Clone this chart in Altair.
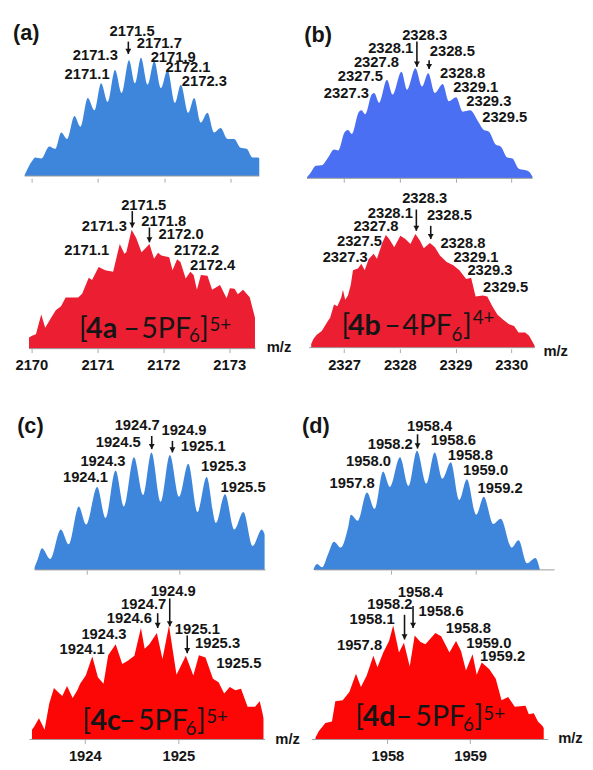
import altair as alt
import pandas as pd

# ---------------- (a) blue : simulated ----------------
a_blue_mz = [2169.90, 2170.02, 2170.06, 2170.15, 2170.27, 2170.36, 2170.45, 2170.54, 2170.65, 2170.74,
             2170.85, 2170.95, 2171.05, 2171.15, 2171.26, 2171.36, 2171.47, 2171.56, 2171.65, 2171.75,
             2171.85, 2171.95, 2172.05, 2172.16, 2172.25, 2172.36, 2172.45, 2172.55, 2172.65, 2172.75,
             2172.85, 2172.95, 2173.05, 2173.15, 2173.24, 2173.33, 2173.41, 2173.43]
a_blue_int = [1, 16, 18.7, 17.7, 30, 27.7, 44.3, 37.7, 61, 50,
              79.3, 66.7, 94.3, 75.3, 107.7, 84.3, 117.7, 94.3, 120, 92.7,
              116.7, 89.3, 107.7, 74.3, 92.7, 64.3, 79.3, 54.3, 64.3, 44.3,
              48.7, 37.7, 37.7, 28.7, 27.7, 18.7, 18.7, 17.7]
a_blue_lab = ["2171.5", "2171.7", "2171.3", "2171.9", "2172.1", "2171.1", "2172.3"]
a_blue_lab_mz = [2171.516, 2171.926, 2170.963, 2172.135, 2172.357, 2170.839, 2172.604]
a_blue_lab_h = [147.7, 135, 122.7, 121, 110.4, 103.4, 96.7]
a_blue_arr_mz = [2171.46]
a_blue_arr_top = [136.5]
a_blue_arr_tip = [124]

# ---------------- (a) red : experimental ----------------
a_red_mz = [2169.965, 2170.01, 2170.07, 2170.15, 2170.21, 2170.30, 2170.37, 2170.45, 2170.52, 2170.60,
            2170.71, 2170.77, 2170.87, 2170.92, 2171.02, 2171.12, 2171.24, 2171.34, 2171.41, 2171.44,
            2171.52, 2171.59, 2171.67, 2171.72, 2171.79, 2171.86, 2171.92, 2171.97, 2172.09, 2172.14,
            2172.21, 2172.26, 2172.34, 2172.41, 2172.46, 2172.51, 2172.57, 2172.67, 2172.74, 2172.86,
            2172.96, 2173.01, 2173.08, 2173.13, 2173.21, 2173.31, 2173.39]
a_red_int = [11.3, 13, 14.7, 34.7, 21.3, 31.3, 39, 43, 52, 52,
             52, 55.7, 72, 69.7, 83, 79.7, 78, 106.3, 96.3, 98,
             120.7, 112.3, 98, 101.3, 106.3, 91.3, 97.3, 94.7, 92.7, 79.7,
             90.7, 88, 71.3, 78, 74.7, 59.7, 74.7, 74, 59.7, 64.7,
             51.3, 61.3, 60.7, 55.3, 59.7, 52.3, 31.3]
a_red_lab = ["2171.5", "2171.3", "2171.8", "2172.0", "2171.1", "2172.2", "2172.4"]
a_red_lab_mz = [2171.703, 2171.106, 2172.007, 2172.27, 2170.84, 2172.504, 2172.748]
a_red_lab_h = [146.3, 124.7, 129.7, 116.3, 100.3, 99.7, 85.3]
a_red_arr_mz = [2171.53, 2171.79]
a_red_arr_top = [139.7, 123]
a_red_arr_tip = [123, 108]
a_formula_text = ["[", "4a", "–", "5PF", "6", "]", "5+"]
a_formula_style = ["n", "b", "n", "n", "s", "n", "s"]
a_formula_mz = [2170.721, 2170.830, 2171.393, 2171.666, 2172.388, 2172.557, 2172.701]
a_formula_h = [11.3, 11.3, 11.3, 11.3, 6.3, 11.3, 18]

# ---------------- (b) blue ----------------
b_blue_mz = [2326.335, 2326.394, 2326.494, 2326.60, 2326.72, 2326.82, 2326.895, 2327.01, 2327.07, 2327.14,
             2327.26, 2327.31, 2327.38, 2327.495, 2327.54, 2327.63, 2327.77, 2327.87, 2328.03, 2328.13,
             2328.28, 2328.40, 2328.51, 2328.63, 2328.77, 2328.88, 2329.01, 2329.13, 2329.26, 2329.40,
             2329.51, 2329.60, 2329.72, 2329.81, 2329.93, 2330.02, 2330.13, 2330.24, 2330.32, 2330.38]
b_blue_int = [1, 5, 12.7, 13.3, 21.7, 29.3, 28.3, 46.7, 49, 45,
              66.7, 69, 65, 85, 86.7, 76.7, 100, 85, 108.3, 90,
              111.7, 93.3, 106.7, 86.7, 95.7, 78.3, 82.3, 67.7, 69, 58.3,
              49, 47.3, 34.3, 32.3, 21, 20, 10, 8.3, 6.7, 1.7]
b_lab = ["2328.3", "2328.1", "2328.5", "2327.8", "2328.8", "2327.5", "2329.1", "2327.3", "2329.3", "2329.5"]
b_blue_lab_mz = [2328.447, 2327.837, 2328.942, 2327.581, 2329.127, 2327.292, 2329.362, 2327.042, 2329.597, 2329.883]
b_blue_lab_h = [145.7, 132.3, 129, 117.7, 107.3, 104, 92.3, 86.7, 78.3, 62.3]
b_blue_arr_mz = [2328.307, 2328.526]
b_blue_arr_top = [139, 120]
b_blue_arr_tip = [113.3, 111]

# ---------------- (b) red ----------------
b_red_mz = [2326.41, 2326.45, 2326.51, 2326.60, 2326.71, 2326.75, 2326.82, 2326.88, 2326.95, 2326.98,
            2327.02, 2327.07, 2327.12, 2327.16, 2327.25, 2327.31, 2327.37, 2327.44, 2327.53, 2327.59,
            2327.69, 2327.75, 2327.81, 2327.90, 2328.01, 2328.10, 2328.19, 2328.28, 2328.36, 2328.43,
            2328.54, 2328.63, 2328.72, 2328.84, 2328.96, 2329.07, 2329.19, 2329.28, 2329.36, 2329.49,
            2329.57, 2329.66, 2329.75, 2329.85, 2329.96, 2330.05, 2330.13, 2330.25, 2330.32, 2330.42]
b_red_int = [3.7, 8.7, 13, 17, 27, 30.3, 43.7, 42, 51, 58.7,
             48.7, 53, 63.7, 78.7, 80.3, 85.3, 78.7, 89.7, 95.3, 90.3,
             107, 114.3, 110.3, 102, 113.7, 110.3, 105.3, 115.3, 108.7, 101,
             106.3, 102, 93.7, 87, 83.7, 78.7, 69.7, 71, 52, 53,
             52, 42, 33.7, 28.7, 23.7, 22, 15.3, 15.3, 12, 2]
b_red_lab_mz = [2328.447, 2327.830, 2328.891, 2327.572, 2329.133, 2327.277, 2329.367, 2327.021, 2329.618, 2329.898]
b_red_lab_h = [152, 137, 134.3, 123.7, 106.3, 108.7, 92, 92, 78.7, 62]
b_red_arr_mz = [2328.297, 2328.555]
b_red_arr_top = [140.3, 123.7]
b_red_arr_tip = [118.7, 110.3]
b_formula_text = ["[", "4b", "–", "4PF", "6", "]", "4+"]
b_formula_style = ["n", "b", "n", "n", "s", "n", "s"]
b_formula_mz = [2326.954, 2327.071, 2327.719, 2328.042, 2328.926, 2329.133, 2329.309]
b_formula_h = [13, 13, 13, 13, 7, 13, 23.7]

# ---------------- (c) blue ----------------
c_blue_mz = [1923.43, 1923.465, 1923.51, 1923.60, 1923.715, 1923.80, 1923.91, 1923.99, 1924.11, 1924.20,
             1924.31, 1924.40, 1924.51, 1924.61, 1924.70, 1924.80, 1924.90, 1925.00, 1925.10, 1925.20,
             1925.30, 1925.40, 1925.50, 1925.60, 1925.70, 1925.80, 1925.90, 1925.93]
c_blue_int = [2.7, 11, 22, 11, 41, 26, 64.3, 46, 84.3, 52.7,
              101, 64.3, 114.3, 76, 119.3, 69.3, 116.7, 74.3, 107.7, 58.7,
              94.3, 47.7, 76.7, 41, 58.7, 24.3, 41, 36]
c_blue_lab = ["1924.7", "1924.9", "1924.5", "1925.1", "1924.3", "1925.3", "1924.1", "1925.5"]
c_blue_lab_mz = [1924.545, 1925.054, 1924.339, 1925.263, 1924.173, 1925.485, 1923.983, 1925.696]
c_blue_lab_h = [146.7, 142, 130, 125.3, 110, 105.3, 94.3, 84.3]
c_blue_arr_mz = [1924.703, 1924.928]
c_blue_arr_top = [136, 131]
c_blue_arr_tip = [122.7, 119.3]

# ---------------- (c) red ----------------
c_red_mz = [1923.435, 1923.46, 1923.51, 1923.57, 1923.62, 1923.67, 1923.73, 1923.76, 1923.81, 1923.87,
            1923.92, 1923.95, 1924.01, 1924.08, 1924.14, 1924.20, 1924.25, 1924.33, 1924.40, 1924.46,
            1924.53, 1924.60, 1924.64, 1924.69, 1924.77, 1924.83, 1924.90, 1924.98, 1925.08, 1925.16,
            1925.22, 1925.29, 1925.37, 1925.43, 1925.49, 1925.55, 1925.61, 1925.67, 1925.74, 1925.82,
            1925.87, 1925.90, 1925.91]
c_red_int = [10, 13.3, 21.7, 10, 36.7, 52.3, 46.7, 44.3, 54.3, 42.3,
             50, 56.7, 65, 84.3, 63.3, 56.7, 85.7, 96.7, 76.7, 80,
             85, 113.3, 92.3, 96.7, 108.3, 81.7, 115.7, 65.7, 85, 65,
             85.7, 83.3, 61.7, 58.3, 46.7, 53.3, 50, 51.7, 33.3, 33.3,
             39, 26.7, 21.7]
c_red_lab = ["1924.9", "1924.7", "1924.6", "1925.1", "1924.3", "1925.3", "1924.1", "1925.5"]
c_red_lab_mz = [1924.945, 1924.629, 1924.476, 1925.203, 1924.205, 1925.419, 1923.972, 1925.647]
c_red_lab_h = [151, 137.7, 123.3, 112.3, 106.7, 98.3, 92.3, 77.7]
c_red_arr_mz = [1924.908, 1924.779, 1925.095]
c_red_arr_top = [143.3, 128.3, 105.7]
c_red_arr_tip = [115, 113.3, 87.7]
c_formula_text = ["[", "4c", "–", "5PF", "6", "]", "5+"]
c_formula_style = ["n", "b", "n", "n", "s", "n", "s"]
c_formula_mz = [1923.972, 1924.06, 1924.365, 1924.568, 1925.077, 1925.2, 1925.298]
c_formula_h = [10, 10, 10, 10, 5, 10, 16.7]

# ---------------- (d) blue ----------------
d_blue_mz = [1957.09, 1957.13, 1957.19, 1957.26, 1957.33, 1957.41, 1957.50, 1957.53, 1957.61, 1957.72,
             1957.81, 1957.91, 1957.99, 1958.11, 1958.21, 1958.31, 1958.42, 1958.52, 1958.61, 1958.71,
             1958.81, 1958.90, 1959.01, 1959.10, 1959.21, 1959.30, 1959.43, 1959.51, 1959.61, 1959.71,
             1959.76]
d_blue_int = [1, 6, 2.7, 16, 28.7, 22.7, 44.3, 56, 50, 78.7,
              62, 100, 84.3, 114.3, 85.3, 121, 87.7, 119.3, 92.7, 109.3,
              71, 92, 56, 74.3, 46.7, 52, 22.7, 30, 6.7, 12,
              1]
d_blue_lab = ["1958.4", "1958.2", "1958.6", "1958.0", "1958.8", "1959.0", "1957.8", "1959.2"]
d_blue_lab_mz = [1958.46, 1957.995, 1958.74, 1957.738, 1958.94, 1959.12, 1957.544, 1959.292]
d_blue_lab_h = [146, 127.7, 132, 111, 116.7, 101, 87.7, 83.3]
d_blue_arr_mz = [1958.317]
d_blue_arr_top = [137.7]
d_blue_arr_tip = [123.3]

# ---------------- (d) red ----------------
d_red_mz = [1957.13, 1957.17, 1957.25, 1957.33, 1957.37, 1957.46, 1957.54, 1957.62, 1957.68, 1957.75,
            1957.83, 1957.88, 1957.95, 1958.02, 1958.07, 1958.14, 1958.20, 1958.27, 1958.33, 1958.40,
            1958.46, 1958.58, 1958.65, 1958.75, 1958.83, 1958.89, 1958.95, 1959.03, 1959.08, 1959.14,
            1959.23, 1959.31, 1959.38, 1959.46, 1959.54, 1959.67, 1959.71, 1959.77, 1959.82, 1959.87,
            1959.89]
d_red_int = [1.7, 8.3, 16.7, 18.3, 39, 40, 48.3, 66.7, 53.3, 65,
             85, 73.3, 88.3, 100, 115.7, 88.3, 98.3, 74.3, 105.7, 99,
             96.7, 108.3, 105, 88.3, 100, 90, 70, 86.7, 65.7, 78.3,
             71.7, 61.7, 40, 43.3, 33.3, 34.3, 25.7, 26.7, 18.3, 14.3,
             11.7]
d_red_lab = ["1958.4", "1958.2", "1958.6", "1958.1", "1958.8", "1957.8", "1959.0", "1959.2"]
d_red_lab_mz = [1958.398, 1958.03, 1958.649, 1957.815, 1958.979, 1957.663, 1959.226, 1959.393]
d_red_lab_h = [150, 137.7, 130, 122.3, 113.3, 95.7, 98.3, 84.3]
d_red_arr_mz = [1958.31, 1958.207]
d_red_arr_top = [135.7, 126.7]
d_red_arr_tip = [113.3, 101.7]
d_formula_text = ["[", "4d", "–", "5PF", "6", "]", "5+"]
d_formula_style = ["n", "b", "n", "n", "s", "n", "s"]
d_formula_mz = [1957.612, 1957.702, 1958.1, 1958.338, 1958.913, 1959.052, 1959.16]
d_formula_h = [13.3, 13.3, 13.3, 13.3, 8.3, 13.3, 20]

FONT = "Liberation Sans"
FORMULA_FONT = "Lato"
INK = "#151515"


def panel(mz, inten, color, interp, xdom, ydom, width, height, line, ticks, show_labels,
          lab_text, lab_mz, lab_h, arr_mz, arr_top, arr_tip,
          tag=None, formula=None, mzlab=None):
    xs = alt.Scale(domain=xdom, nice=False, zero=False)
    ys = alt.Scale(domain=ydom, nice=False, zero=False)
    ax = alt.Axis(values=ticks, labels=show_labels, format="d", domain=False, ticks=True,
                  tickSize=4, tickColor="#aaaaaa", grid=False, labelFont=FONT, labelFontSize=15,
                  labelFontWeight="bold", labelColor=INK, labelPadding=5, title=None)

    def X(f):
        return alt.X(f, type="quantitative", scale=xs, axis=ax)

    def Y(f):
        return alt.Y(f, type="quantitative", scale=ys, axis=None)

    layers = []
    spec = pd.DataFrame({"mz": mz, "h": inten})
    layers.append(alt.Chart(spec).mark_area(color=color, interpolate=interp, opacity=1)
                  .encode(x=X("mz"), y=Y("h"), y2=alt.datum(0)))
    base = pd.DataFrame({"a": [line[0]], "b": [line[1]], "y": [0]})
    layers.append(alt.Chart(base).mark_rule(color="#9a9a9a", strokeWidth=1)
                  .encode(x=X("a"), x2=alt.X2("b"), y=Y("y")))
    labs = pd.DataFrame({"t": lab_text, "mz": lab_mz, "h": lab_h})
    layers.append(alt.Chart(labs).mark_text(font=FONT, fontSize=15, fontWeight="bold", color=INK,
                                            align="center", baseline="middle")
                  .encode(x=X("mz"), y=Y("h"), text="t:N"))
    arr = pd.DataFrame({"mz": arr_mz, "top": arr_top, "tip": arr_tip})
    layers.append(alt.Chart(arr).mark_rule(color=INK, strokeWidth=1.6)
                  .encode(x=X("mz"), y=Y("top"), y2=alt.Y2("tip")))
    layers.append(alt.Chart(arr).mark_point(shape="triangle-down", filled=True, size=36, color=INK,
                                            opacity=1, yOffset=-2.6)
                  .encode(x=X("mz"), y=Y("tip")))
    if tag is not None:
        tdf = pd.DataFrame({"t": [tag[0]], "mz": [tag[1]], "h": [tag[2]]})
        layers.append(alt.Chart(tdf).mark_text(font=FONT, fontSize=22, fontWeight="bold", color=INK,
                                               align="center", baseline="middle")
                      .encode(x=X("mz"), y=Y("h"), text="t:N"))
    if formula is not None:
        fdf = pd.DataFrame({"t": formula[0], "s": formula[1], "mz": formula[2], "h": formula[3]})
        styles = {"n": (29, "normal"), "b": (29, "bold"), "s": (19, "normal")}
        for key, (fs, fw) in styles.items():
            layers.append(alt.Chart(fdf).transform_filter(alt.datum.s == key)
                          .mark_text(font=FORMULA_FONT, fontSize=fs, fontWeight=fw, color=INK,
                                     align="left", baseline="alphabetic")
                          .encode(x=X("mz"), y=Y("h"), text="t:N"))
    if mzlab is not None:
        mdf = pd.DataFrame({"t": ["m/z"], "mz": [mzlab[0]], "h": [mzlab[1]]})
        layers.append(alt.Chart(mdf).mark_text(font=FONT, fontSize=15, fontWeight="bold", color=INK,
                                               align="center", baseline="middle")
                      .encode(x=X("mz"), y=Y("h"), text="t:N"))
    return alt.layer(*layers).properties(width=width, height=height)


BLUE = "#3d86dc"
BLUE_B = "#4b6ff2"
RED_A = "#ec1e32"
RED_CD = "#fc0606"

pa_blue = panel(a_blue_mz, a_blue_int, BLUE, "monotone", [2169.679, 2173.679], [-2.3, 162.7], 270, 165,
                [2169.90, 2173.43], [2170, 2171, 2172, 2173], False,
                a_blue_lab, a_blue_lab_mz, a_blue_lab_h, a_blue_arr_mz, a_blue_arr_top, a_blue_arr_tip,
                tag=("(a)", 2169.923, 145.2))
pb_blue = panel(b_blue_mz, b_blue_int, BLUE_B, "monotone", [2326.129, 2331.164], [0, 165], 285, 165,
                [2326.336, 2330.382], [2327, 2328, 2329, 2330], False,
                b_lab, b_blue_lab_mz, b_blue_lab_h, b_blue_arr_mz, b_blue_arr_top, b_blue_arr_tip,
                tag=("(b)", 2326.535, 145))
pa_red = panel(a_red_mz, a_red_int, RED_A, "linear", [2169.676, 2173.706], [0, 173], 270, 173,
               [2169.97, 2173.40], [2170, 2171, 2172, 2173], True,
               a_red_lab, a_red_lab_mz, a_red_lab_h, a_red_arr_mz, a_red_arr_top, a_red_arr_tip,
               formula=(a_formula_text, a_formula_style, a_formula_mz, a_formula_h),
               mzlab=(2173.755, 1.3))
pb_red = panel(b_red_mz, b_red_int, RED_A, "linear", [2326.129, 2331.164], [-1, 172], 285, 173,
               [2326.376, 2330.417], [2327, 2328, 2329, 2330], True,
               b_lab, b_red_lab_mz, b_red_lab_h, b_red_arr_mz, b_red_arr_top, b_red_arr_tip,
               formula=(b_formula_text, b_formula_style, b_formula_mz, b_formula_h),
               mzlab=(2330.797, -3))
pc_blue = panel(c_blue_mz, c_blue_int, BLUE, "monotone", [1923.162, 1926.052], [-0.3, 224.7], 270, 225,
                [1923.43, 1925.94], [1924, 1925], False,
                c_blue_lab, c_blue_lab_mz, c_blue_lab_h, c_blue_arr_mz, c_blue_arr_top, c_blue_arr_tip,
                tag=("(c)", 1923.384, 146))
pd_blue = panel(d_blue_mz, d_blue_int, BLUE, "monotone", [1956.876, 1960.19], [-0.3, 224.7], 285, 225,
                [1957.105, 1959.935], [1958, 1959], False,
                d_blue_lab, d_blue_lab_mz, d_blue_lab_h, d_blue_arr_mz, d_blue_arr_top, d_blue_arr_tip,
                tag=("(d)", 1957.117, 146))
pc_red = panel(c_red_mz, c_red_int, RED_CD, "linear", [1923.2, 1926.042], [0, 172], 270, 172,
               [1923.41, 1925.926], [1924, 1925], True,
               c_red_lab, c_red_lab_mz, c_red_lab_h, c_red_arr_mz, c_red_arr_top, c_red_arr_tip,
               formula=(c_formula_text, c_formula_style, c_formula_mz, c_formula_h),
               mzlab=(1926.168, 0))
pd_red = panel(d_red_mz, d_red_int, RED_CD, "linear", [1956.889, 1960.282], [0, 172], 285, 172,
               [1957.088, 1959.945], [1958, 1959], True,
               d_red_lab, d_red_lab_mz, d_red_lab_h, d_red_arr_mz, d_red_arr_top, d_red_arr_tip,
               formula=(d_formula_text, d_formula_style, d_formula_mz, d_formula_h),
               mzlab=(1960.213, 1.7))

chart = (alt.concat(pa_blue, pb_blue, pa_red, pb_red, pc_blue, pd_blue, pc_red, pd_red,
                    columns=2, spacing={"row": 0, "column": 20}, bounds="flush")
         .properties(padding={"left": 2, "top": 2, "right": 2, "bottom": 2}, background="white")
         .configure_view(strokeWidth=0))

chart.save("out.html", embed_options={"renderer": "svg", "actions": False})
